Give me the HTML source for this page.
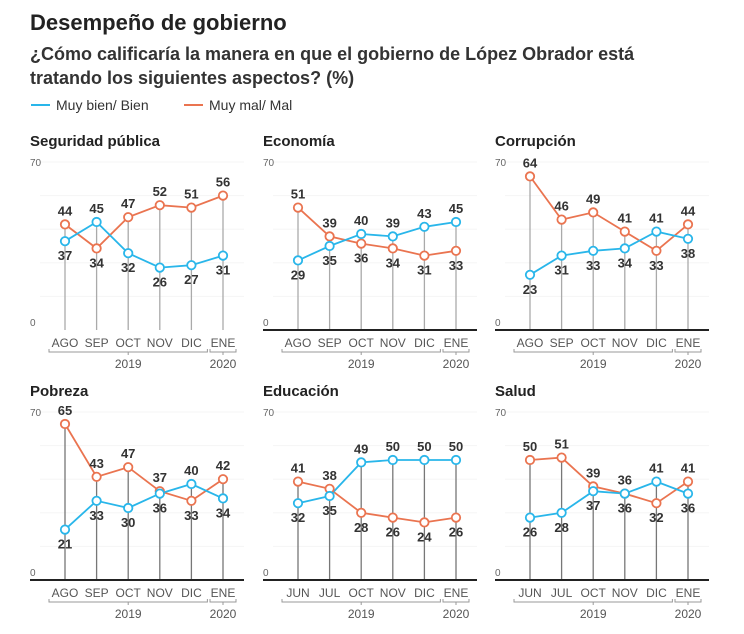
<!DOCTYPE html>
<html><head><meta charset="utf-8">
<style>
body{margin:0;background:#fff;font-family:"Liberation Sans",sans-serif;}
#wrap{position:relative;width:744px;height:634px;overflow:hidden;}
</style></head>
<body>
<div id="wrap">
<svg id="svg" width="744" height="634" xmlns="http://www.w3.org/2000/svg">
<text x="30" y="30" font-size="22" font-weight="bold" fill="#222">Desempeño de gobierno</text>
<text x="30" y="60" font-size="18" font-weight="bold" fill="#333">¿Cómo calificaría la manera en que el gobierno de López Obrador está</text>
<text x="30" y="84" font-size="18" font-weight="bold" fill="#333">tratando los siguientes aspectos? (%)</text>
<g><line x1="31" y1="105" x2="50" y2="105" stroke="#29b6ea" stroke-width="2"/><text x="56" y="110" font-size="14" fill="#333">Muy bien/ Bien</text></g>
<g><line x1="184" y1="105" x2="203" y2="105" stroke="#ea7450" stroke-width="2"/><text x="209" y="110" font-size="14" fill="#333">Muy mal/ Mal</text></g>
</svg>
</div>
<script>
const titles=["Seguridad pública","Economía","Corrupción","Pobreza","Educación","Salud"];
const monthsA=["AGO","SEP","OCT","NOV","DIC","ENE"];
const monthsB=["JUN","JUL","OCT","NOV","DIC","ENE"];
const bien0=[37,45,32,26,27,31];
const mal0=[44,34,47,52,51,56];
const bien1=[29,35,40,39,43,45];
const mal1=[51,39,36,34,31,33];
const bien2=[23,31,33,34,41,38];
const mal2=[64,46,49,41,33,44];
const bien3=[21,33,30,36,40,34];
const mal3=[65,43,47,37,33,42];
const bien4=[32,35,49,50,50,50];
const mal4=[41,38,28,26,24,26];
const bien5=[26,28,37,36,41,36];
const mal5=[50,51,39,36,32,41];
const yTicks=[0,70];
const bienAll=[bien0,bien1,bien2,bien3,bien4,bien5];
const malAll=[mal0,mal1,mal2,mal3,mal4,mal5];
const NS="http://www.w3.org/2000/svg";
const svg=document.getElementById('svg');
function mk(tag,attrs,parent,txt){const e=document.createElementNS(NS,tag);for(const k in attrs)e.setAttribute(k,attrs[k]);if(txt!==undefined)e.textContent=txt;parent.appendChild(e);return e;}
const BLUE="#29b6ea",ORANGE="#ea7450";
const panelX=[65,298,530];
const base=[330,580];
for(let p=0;p<6;p++){
  const col=p%3,row=Math.floor(p/3);
  const x0=panelX[col],y0=base[row];
  const xs=i=>x0+i*31.6;
  const ys=v=>y0-v*2.4;
  const g=mk('g',{},svg);
  
  
  const t=mk('text',{x:x0-35,y:y0-184,'font-size':15,'font-weight':'bold',fill:'#222'},g,titles[p]);
  
  
  [14,28,42,56,70].forEach(v=>{mk('line',{x1:x0-25,x2:x0+179,y1:ys(v),y2:ys(v),stroke:'#f5f5f5','stroke-width':1},g);});
  yTicks.forEach(v=>{const tt=mk('text',{x:x0-35,y:ys(v)-4+(v?8:0),'font-size':10,fill:'#666'},g,String(v));
    
    });
  const b=bienAll[p],m=malAll[p];
  const months=(p===4||p===5)?monthsB:monthsA;
  for(let i=0;i<6;i++){
    const vl=mk('line',{x1:xs(i),x2:xs(i),y1:y0,y2:ys(Math.max(b[i],m[i])),stroke:row?'#777':'#aaa','stroke-width':1.3},g);
    
    
    const ml=mk('text',{x:xs(i),y:y0+17,'font-size':12,fill:'#555','text-anchor':'middle'},g,months[i]);
    
    
  }
  if(p!==0){const bl=mk('line',{x1:x0-35,x2:x0+179,y1:y0,y2:y0,stroke:'#222','stroke-width':2},g);
    
    }
  const by=y0+22;
  mk('path',{d:`M${xs(0)-16} ${by-3}V${by}H${xs(4)+16}V${by-3}M${(xs(0)+xs(4))/2} ${by}v3`,fill:'none',stroke:'#999'},g);
  mk('path',{d:`M${xs(5)-13} ${by-3}V${by}H${xs(5)+13}V${by-3}M${xs(5)} ${by}v3`,fill:'none',stroke:'#999'},g);
  const y1=mk('text',{x:(xs(0)+xs(4))/2,y:by+16,'font-size':12,fill:'#555','text-anchor':'middle'},g,'2019');
  
  
  const y2=mk('text',{x:xs(5),y:by+16,'font-size':12,fill:'#555','text-anchor':'middle'},g,'2020');
  
  
  [[m,ORANGE,'mal'],[b,BLUE,'bien']].forEach(([arr,c,n])=>{
    const pl=mk('polyline',{points:arr.map((v,i)=>xs(i)+','+ys(v)).join(' '),fill:'none',stroke:c,'stroke-width':1.8},g);
    
    
  });
  for(let i=0;i<6;i++){
    [[m,ORANGE,'mal',b],[b,BLUE,'bien',m]].forEach(([arr,c,n,other])=>{
      const cc=mk('circle',{cx:xs(i),cy:ys(arr[i]),r:4.2,fill:'#fff',stroke:c,'stroke-width':1.8},g);
      
      
      const above = n==='mal' ? arr[i]>=other[i] : arr[i]>other[i];
      const ly = above ? ys(arr[i])-9 : ys(arr[i])+19;
      const lt=mk('text',{x:xs(i),y:ly,'font-size':13,'font-weight':'bold',fill:'#333','text-anchor':'middle'},g,String(arr[i]));
      
      
    });
  }
}
</script>
</body></html>
